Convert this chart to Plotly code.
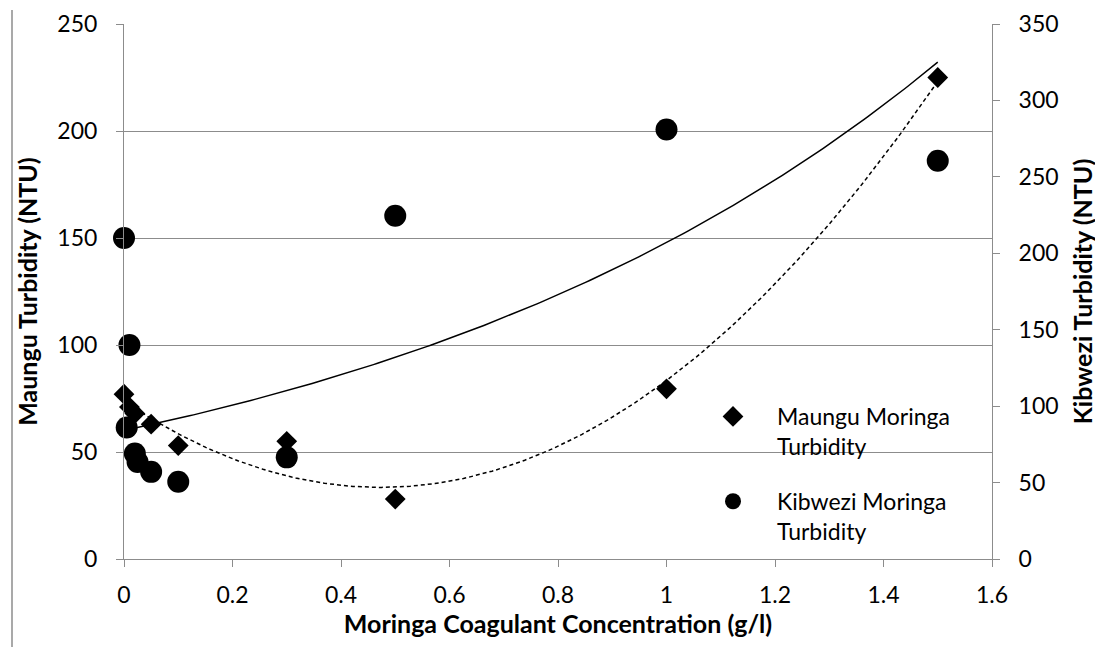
import numpy as np
import plotly.graph_objects as go

# Data
maungu_x = [0, 0.01, 0.02, 0.05, 0.1, 0.3, 0.5, 1.0, 1.5]
maungu_y = [77, 71, 68, 63, 53, 55, 28, 79.5, 225]

kibwezi_x = [0, 0.005, 0.01, 0.02, 0.025, 0.05, 0.1, 0.3, 0.5, 1.0, 1.5]
kibwezi_y = [210, 86, 140, 69, 63.5, 57, 50.5, 66.5, 224.5, 281, 260.5]

x_ticks = [0, 0.2, 0.4, 0.6, 0.8, 1.0, 1.2, 1.4, 1.6]
x_tick_labels = ["0", "0.2", "0.4", "0.6", "0.8", "1", "1.2", "1.4", "1.6"]

FONT = "Lato, 'Open Sans', sans-serif"
GRID = "#8c8c8c"

# Trendlines derived from the data (Excel-style fits)
mx = np.array(maungu_x)
my = np.array(maungu_y)
poly = np.polyfit(mx, my, 2)
tx = np.linspace(min(maungu_x), max(maungu_x), 200)
maungu_fit = np.polyval(poly, tx)

kx = np.array(kibwezi_x)
ky = np.array(kibwezi_y)
b, ln_a = np.polyfit(kx, np.log(ky), 1)
kx_line = np.linspace(min(kibwezi_x), max(kibwezi_x), 200)
kibwezi_fit = np.exp(ln_a) * np.exp(b * kx_line)

# figure geometry (page body has an 8px margin)
L, T, PW, PH = 116, 16, 868, 535
W, H = 1095, 639

fig = go.Figure()

fig.add_trace(go.Scatter(
    x=kx_line, y=kibwezi_fit, mode="lines", yaxis="y2",
    line=dict(color="black", width=1.5), showlegend=False, hoverinfo="skip"))
fig.add_trace(go.Scatter(
    x=tx, y=maungu_fit, mode="lines",
    line=dict(color="black", width=1.5, dash="4px,3px"), showlegend=False, hoverinfo="skip"))

fig.add_trace(go.Scatter(
    x=maungu_x, y=maungu_y, mode="markers", name="Maungu Moringa<br>Turbidity",
    legendgroup="m",
    marker=dict(symbol="diamond", size=16, color="black"), cliponaxis=False))
fig.add_trace(go.Scatter(
    x=kibwezi_x, y=kibwezi_y, mode="markers", name="Kibwezi Moringa<br>Turbidity",
    legendgroup="k",
    yaxis="y2", marker=dict(symbol="circle", size=22, color="black"), cliponaxis=False))

fig.update_layout(
    width=W, height=H,
    margin=dict(l=L, r=W - L - PW, t=T, b=H - T - PH, autoexpand=False),
    paper_bgcolor="white", plot_bgcolor="white",
    font=dict(family=FONT, size=23, color="black"),
    xaxis=dict(
        range=[0, 1.6], tickvals=x_ticks, ticktext=x_tick_labels,
        showgrid=False, zeroline=False, showline=True, linecolor=GRID, linewidth=1,
        ticks="outside", ticklen=7, tickcolor=GRID, ticklabelstandoff=8,
        title=dict(text="<b>Moringa Coagulant Concentration (g/l)</b>", font=dict(size=25), standoff=8),
    ),
    yaxis=dict(
        range=[0, 250], dtick=50, showgrid=True, gridcolor=GRID, gridwidth=1,
        zeroline=False, showline=True, linecolor=GRID, linewidth=1,
        ticks="outside", ticklen=7, tickcolor=GRID, ticklabelstandoff=14,
        title=dict(text="<b>Maungu Turbidity (NTU)</b>", font=dict(size=25), standoff=12),
    ),
    yaxis2=dict(
        range=[0, 350], dtick=50, overlaying="y", side="right", showgrid=False,
        zeroline=False, showline=True, linecolor=GRID, linewidth=1,
        ticks="outside", ticklen=7, tickcolor=GRID, ticklabelstandoff=14,
        title=dict(text="<b>Kibwezi Turbidity (NTU)</b>", font=dict(size=25), standoff=16),
    ),
    legend=dict(
        x=(681 - L) / PW, y=(T + PH - 387) / PH,
        xanchor="left", yanchor="top",
        bgcolor="rgba(0,0,0,0)", font=dict(size=23), valign="top",
        tracegroupgap=22, itemwidth=78, borderwidth=0,
    ),
    showlegend=True,
    shapes=[dict(type="line", xref="paper", yref="paper",
                 x0=(4 - L) / PW, x1=(4 - L) / PW,
                 y0=(T + PH - 2) / PH, y1=(T + PH - H) / PH,
                 line=dict(color=GRID, width=1.5))],
)

fig.write_html("out.html")
